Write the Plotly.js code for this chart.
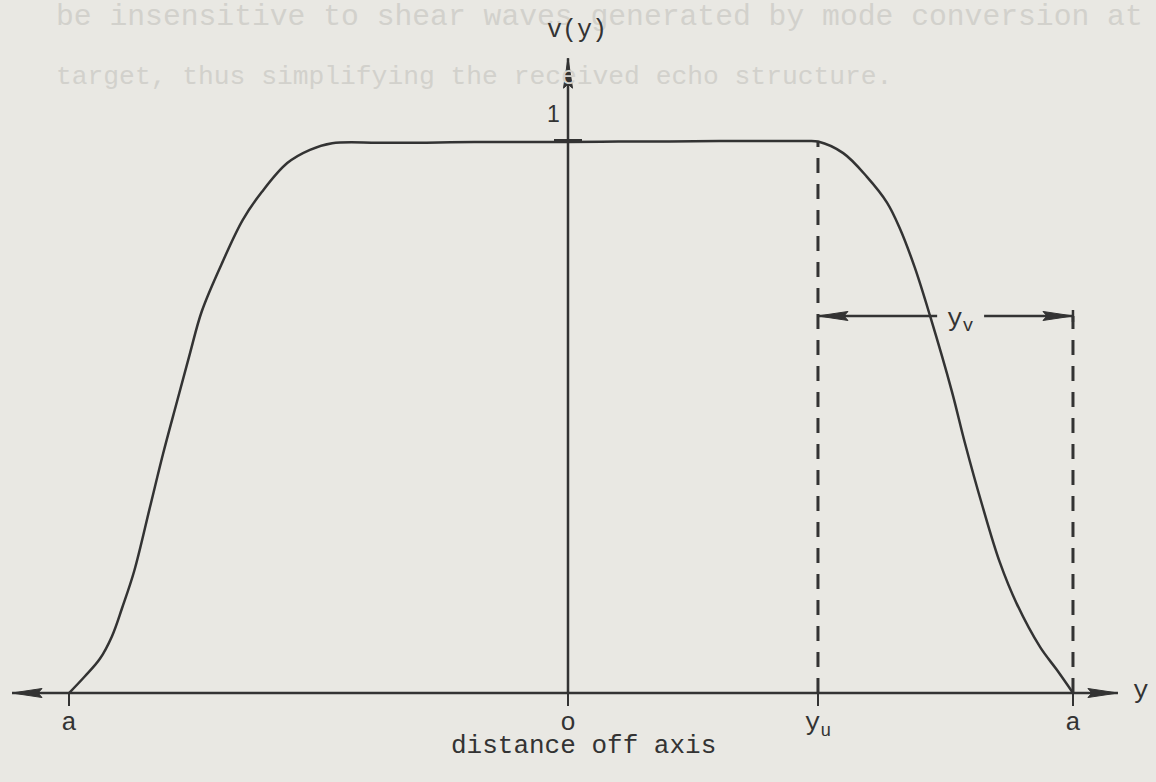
<!DOCTYPE html>
<html>
<head>
<meta charset="utf-8">
<script src="https://cdn.plot.ly/plotly-3.0.1.min.js"></script>
<style>
  html, body { margin: 0; padding: 0; background: #e9e8e3; }
  #chart { width: 1156px; height: 782px; }
</style>
</head>
<body>
<div id="chart"></div>
<script>
// Beam response profile v(y) against distance off axis (a = aperture edge, o = axis)
const distance = [-0.988, -0.958, -0.927, -0.903, -0.883, -0.859, -0.828, -0.802, -0.774, -0.749,
                  -0.725, -0.683, -0.644, -0.606, -0.556, -0.511, -0.467,
                  -0.375, -0.280, -0.185, -0.090, 0.000, 0.100, 0.200, 0.300, 0.400, 0.470, 0.495,
                  0.545, 0.592, 0.632, 0.657, 0.687, 0.717, 0.760, 0.786, 0.820,
                  0.855, 0.889, 0.935, 0.968, 1.000];
const response = [0.000, 0.029, 0.062, 0.103, 0.154, 0.221, 0.336, 0.433, 0.529, 0.614,
                  0.692, 0.783, 0.857, 0.908, 0.960, 0.984, 0.996,
                  0.997, 0.997, 0.998, 0.998, 0.998, 0.999, 0.999, 1.000, 1.000, 1.000, 0.999,
                  0.978, 0.935, 0.888, 0.842, 0.770, 0.683, 0.547, 0.453, 0.341,
                  0.237, 0.161, 0.083, 0.042, 0.000];

// Axis ticks along y
const tickPositions = [-0.988, 0, 0.495, 1];
const tickLabels = ['a', 'o', 'y<sub>u</sub>', 'a'];

// Key positions
const yU = 0.495;          // start of roll-off
const edgeA = 1;           // aperture edge
const unitLevel = 1;       // plateau value, labelled "1"
const yvLevel = 0.683;     // height of the y_v dimension arrow
const yvGap = [0.731, 0.824]; // break in the dimension line around its label

// Extent of the drawn axes
const xAxisEnds = [-1.101, 1.089];
const vAxisTop = 1.150;

const ink = '#333333';
const mono = 'Liberation Mono, Courier New, monospace';

const curve = {
  x: distance, y: response, type: 'scatter', mode: 'lines',
  line: { color: ink, width: 2.5, shape: 'spline', smoothing: 1 },
  hoverinfo: 'skip', showlegend: false
};

function arrowHead(xAnchor, yAnchor, dir) {
  // narrow filled head; dir = 'right' | 'left' | 'up'
  let path;
  if (dir === 'right') path = 'M0,0 L-30,4.5 L-26,0 L-30,-4.5 Z';
  else if (dir === 'left') path = 'M0,0 L30,4.5 L26,0 L30,-4.5 Z';
  else path = 'M0,0 L4.5,-30 L0,-26 L-4.5,-30 Z';
  return {
    type: 'path', xref: 'x', yref: 'y', xsizemode: 'pixel', ysizemode: 'pixel',
    xanchor: xAnchor, yanchor: yAnchor, path: path,
    fillcolor: ink, line: { color: ink, width: 1 }
  };
}

const shapes = [
  // horizontal axis
  { type: 'line', xref: 'x', yref: 'y', x0: xAxisEnds[0], x1: xAxisEnds[1], y0: 0, y1: 0,
    line: { color: ink, width: 2.5 } },
  arrowHead(xAxisEnds[1], 0, 'right'),
  arrowHead(xAxisEnds[0], 0, 'left'),
  // vertical axis
  { type: 'line', xref: 'x', yref: 'y', x0: 0, x1: 0, y0: 0, y1: vAxisTop,
    line: { color: ink, width: 2.5 } },
  arrowHead(0, vAxisTop, 'up'),
  // tick bar at v = 1
  { type: 'line', xref: 'x', yref: 'y', xsizemode: 'pixel', xanchor: 0, x0: -14, x1: 14,
    y0: unitLevel, y1: unitLevel, line: { color: ink, width: 4 } },
  // dashed guides
  { type: 'line', xref: 'x', yref: 'y', x0: yU, x1: yU, y0: 0, y1: unitLevel,
    line: { color: ink, width: 3, dash: '15px,11px' } },
  { type: 'line', xref: 'x', yref: 'y', x0: edgeA, x1: edgeA, y0: 0, y1: yvLevel,
    line: { color: ink, width: 3, dash: '15px,11px' } },
  // y_v dimension line with a small end stop at the aperture edge
  { type: 'line', xref: 'x', yref: 'y', x0: yU, x1: yvGap[0], y0: yvLevel, y1: yvLevel,
    line: { color: ink, width: 2.5 } },
  { type: 'line', xref: 'x', yref: 'y', x0: yvGap[1], x1: edgeA, y0: yvLevel, y1: yvLevel,
    line: { color: ink, width: 2.5 } },
  { type: 'line', xref: 'x', yref: 'y', ysizemode: 'pixel', yanchor: yvLevel, y0: -6, y1: 6,
    x0: edgeA, x1: edgeA, line: { color: ink, width: 2.5 } },
  arrowHead(yU, yvLevel, 'left'),
  arrowHead(edgeA, yvLevel, 'right')
];

const annotations = [
  // page text showing through from the reverse side
  { xref: 'paper', yref: 'paper', x: 0.047, y: 0.978, xanchor: 'left', yanchor: 'middle',
    text: 'be insensitive to shear waves generated by mode conversion at',
    showarrow: false, font: { family: mono, size: 29.7, color: '#d2d1cc' } },
  { xref: 'paper', yref: 'paper', x: 0.047, y: 0.901, xanchor: 'left', yanchor: 'middle',
    text: 'target, thus simplifying the received echo structure.',
    showarrow: false, font: { family: mono, size: 26.3, color: '#d2d1cc' } },
  // axis names
  { xref: 'x', yref: 'y', x: 0, y: vAxisTop, xshift: 9, yshift: 28,
    text: 'v(y)', showarrow: false, font: { family: mono, size: 25, color: ink } },
  { xref: 'paper', yref: 'y', x: 1141 / 1156, y: 0, xanchor: 'center', yshift: 2,
    text: 'y', showarrow: false, font: { family: mono, size: 26, color: ink } },
  { xref: 'x', yref: 'y', x: 0, y: unitLevel, xshift: -15, yshift: 27,
    text: '1', showarrow: false, font: { family: 'Liberation Sans, Arial, sans-serif', size: 23, color: ink } },
  { xref: 'x', yref: 'y', x: (yvGap[0] + yvGap[1]) / 2, y: yvLevel, yshift: -4,
    text: 'y<sub>v</sub>', showarrow: false, font: { family: mono, size: 26, color: ink } },
  { xref: 'x', yref: 'y', x: 0.03, y: 0, yshift: -53,
    text: 'distance off axis', showarrow: false, font: { family: mono, size: 26, color: ink } }
];

const layout = {
  width: 1156, height: 782,
  margin: { l: 0, r: 0, t: 0, b: 0 },
  paper_bgcolor: '#e9e8e3', plot_bgcolor: '#e9e8e3',
  showlegend: false,
  xaxis: {
    range: [-1.1248, 1.1644], fixedrange: true,
    showgrid: false, zeroline: false, showline: false,
    anchor: 'free', position: 89 / 782,
    ticks: 'outside', ticklen: 12, tickwidth: 2.5, tickcolor: ink,
    tickmode: 'array', tickvals: tickPositions, ticktext: tickLabels,
    tickfont: { family: mono, size: 26, color: ink }, ticklabelstandoff: -7
  },
  yaxis: {
    range: [-0.1612, 1.2554], fixedrange: true, visible: false
  },
  shapes: shapes,
  annotations: annotations
};

Plotly.newPlot('chart', [curve], layout, { staticPlot: true, displayModeBar: false });
</script>
</body>
</html>
